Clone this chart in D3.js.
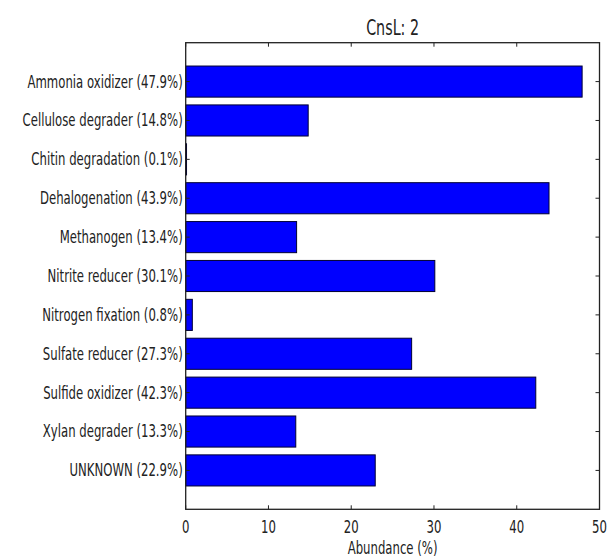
<!DOCTYPE html>
<html>
<head>
<meta charset="utf-8">
<script src="https://cdn.jsdelivr.net/npm/d3@7"></script>
<style>
  html, body { margin: 0; padding: 0; background: #fff; }
  svg { display: block; }
  text { font-family: "DejaVu Sans", sans-serif; fill: #222; }
</style>
</head>
<body>
<svg id="chart" width="608" height="559"></svg>
<script>
// Functional groups and their abundance (%)
const categories = [
  "Ammonia oxidizer", "Cellulose degrader", "Chitin degradation", "Dehalogenation",
  "Methanogen", "Nitrite reducer", "Nitrogen fixation", "Sulfate reducer",
  "Sulfide oxidizer", "Xylan degrader", "UNKNOWN"
];
const abundance = [47.9, 14.8, 0.1, 43.9, 13.4, 30.1, 0.8, 27.3, 42.3, 13.3, 22.9];
const xTicks = [0, 10, 20, 30, 40, 50];
const title = "CnsL: 2";
const xLabel = "Abundance (%)";

const svg = d3.select("#chart");
const plot = { left: 185.7, right: 599.5, top: 42.7, bottom: 509.3 };
const squeeze = 0.65; // narrow glyph width

const x = d3.scaleLinear().domain([0, 50]).range([plot.left, plot.right]);
const y = d3.scaleLinear().domain([-1, categories.length]).range([plot.top, plot.bottom]);
const barH = 0.8;

function label(g, px, py, txt, size, anchor, baseline) {
  g.append("text")
    .attr("transform", `translate(${px},${py}) scale(${squeeze},1)`)
    .attr("font-size", size)
    .attr("text-anchor", anchor)
    .attr("dominant-baseline", baseline || "auto")
    .text(txt);
}

// Bars
svg.append("g").selectAll("rect")
  .data(abundance)
  .join("rect")
  .attr("x", x(0))
  .attr("y", (d, i) => y(i - barH / 2))
  .attr("width", d => x(d) - x(0))
  .attr("height", (d, i) => y(i + barH / 2) - y(i - barH / 2))
  .attr("fill", "#0000ff")
  .attr("stroke", "#000033")
  .attr("stroke-width", 1);

// Axes frame with inward ticks
const axG = svg.append("g").attr("stroke", "#222").attr("fill", "none");
const tickLen = 4;
xTicks.forEach(t => {
  axG.append("line").attr("x1", x(t)).attr("x2", x(t)).attr("y1", plot.bottom).attr("y2", plot.bottom - tickLen);
  axG.append("line").attr("x1", x(t)).attr("x2", x(t)).attr("y1", plot.top).attr("y2", plot.top + tickLen);
});
categories.forEach((c, i) => {
  axG.append("line").attr("x1", plot.left).attr("x2", plot.left + tickLen).attr("y1", y(i)).attr("y2", y(i));
  axG.append("line").attr("x1", plot.right).attr("x2", plot.right - tickLen).attr("y1", y(i)).attr("y2", y(i));
});
axG.append("rect")
  .attr("x", plot.left).attr("y", plot.top)
  .attr("width", plot.right - plot.left).attr("height", plot.bottom - plot.top)
  .attr("stroke-width", 1.3);

// Text
const tg = svg.append("g");
categories.forEach((c, i) => {
  label(tg, plot.left - 3, y(i), `${c} (${abundance[i].toFixed(1)}%)`, 18, "end", "central");
});
xTicks.forEach(t => label(tg, x(t), 533, String(t), 18, "middle"));
label(tg, (plot.left + plot.right) / 2, 35, title, 22, "middle");
label(tg, (plot.left + plot.right) / 2, 554, xLabel, 18, "middle");
</script>
</body>
</html>
